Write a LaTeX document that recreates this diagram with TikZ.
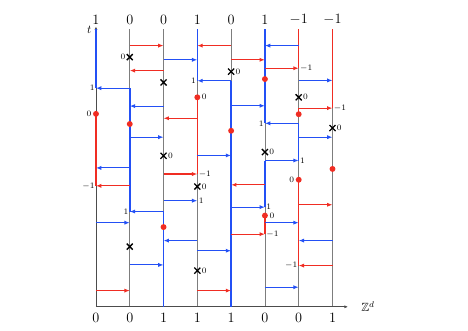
\documentclass[tikz,border=0pt]{standalone}
\usepackage{amssymb}
\definecolor{PathBlue}{RGB}{35,80,245}
\definecolor{PathRed}{RGB}{240,45,35}
\definecolor{LineGray}{RGB}{125,125,125}
\usetikzlibrary{
    arrows.meta,
    positioning,
    shapes.misc,
}

\begin{document}
\begin{tikzpicture}[
    site/.style={draw=LineGray, line width=0.7pt},
    lin/.style={draw=#1, line width=1.3pt},
    jump/.style={draw=#1, line width=0.9pt, -{Latex[length=4.5pt,width=3.5pt]}},
    kill/.style={draw, cross out, line width=1.1pt, minimum size=4pt, inner sep=0pt},
    rdot/.style={circle, fill=PathRed, inner sep=0pt, minimum size=5pt},
    val/.style={font=\scriptsize, inner sep=1pt},
    spin/.style={font=\large}
]
    \useasboundingbox (-2.84,-0.71) rectangle (11.01,9.08);
    % sites and axes
    \foreach \i in {1,...,7}
        \draw[site] (\i,0) -- (\i,8.22);
    \draw[site, -{Latex[length=3pt,width=2.5pt]}, draw=black!70] (0,0) -- (0,8.3);
    \draw[site, -{Latex[length=3pt,width=2.5pt]}, draw=black!70] (0,0) -- (7.46,0);
    \node (tlab) at (-0.2,8.2) {$t$};
    \node (zlab) at (8.05,0) {$\mathbb{Z}^d$};
    % coloured pieces of the lines
    \foreach \i/\a/\b in {0/6.47/8.22, 1/2.82/6.47, 2/0/2.82, 3/6.69/8.22, 4/0/6.69,
                          5/5.43/8.22, 5/2.95/4.33, 6/4.33/5.43}
        \draw[lin=PathBlue] (\i,\a) -- (\i,\b);
    \foreach \i/\a/\b in {0/3.58/5.71, 3/3.93/6.20, 5/2.15/2.70, 6/7.06/8.22,
                          6/5.70/5.88, 6/1.22/3.76, 7/5.88/8.22}
        \draw[lin=PathRed] (\i,\a) -- (\i,\b);
    % arrows
    \foreach \t/\a/\b/\c [count=\n] in {
        7.73/1/2/PathRed, 7.73/4/3/PathRed, 7.73/6/5/PathBlue, 7.31/2/3/PathBlue,
        7.31/4/5/PathRed, 7.06/5/6/PathRed, 6.99/2/1/PathRed, 6.70/6/7/PathBlue,
        6.69/4/3/PathBlue, 6.47/1/0/PathBlue, 5.94/2/1/PathBlue, 5.95/4/5/PathBlue,
        5.88/6/7/PathRed, 5.58/3/2/PathRed, 5.43/6/5/PathBlue, 5.02/1/2/PathBlue,
        5.02/6/7/PathBlue, 4.48/3/4/PathBlue, 4.33/5/6/PathBlue, 4.11/1/0/PathBlue,
        3.93/2/3/PathRed, 3.61/5/4/PathRed, 3.58/1/0/PathRed, 3.14/2/3/PathBlue,
        3.02/6/7/PathRed, 2.95/4/5/PathBlue, 2.82/2/1/PathBlue, 2.49/0/1/PathBlue,
        2.49/5/6/PathBlue, 2.15/4/5/PathRed, 1.96/3/2/PathBlue, 1.96/7/6/PathBlue,
        1.66/3/4/PathBlue, 1.24/1/2/PathBlue, 1.22/7/6/PathRed, 0.58/5/6/PathBlue,
        0.48/0/1/PathRed, 0.48/3/4/PathRed} {
        \coordinate (s\n) at (\a,\t);
        \coordinate (e\n) at (\b,\t);
        \draw[jump=\c] (s\n) -- (e\n);
    }
    % values carried by the arrows
    \foreach \i/\t/\s/\v [count=\n] in {
        6/7.06/right/-1, 3/6.69/left/1, 0/6.47/left/1, 7/5.88/right/-1,
        5/5.43/left/1, 6/4.33/right/1, 3/3.93/right/-1, 0/3.58/left/-1,
        3/3.14/right/1, 5/2.95/right/1, 1/2.82/left/1, 5/2.15/right/-1,
        6/1.22/left/-1}
        \node[val, \s] (a\n) at (\i,\t) {$\v$};
    % crosses
    \foreach \i/\t/\s [count=\n] in {1/7.39/left, 4/6.96/right, 2/4.47/right, 6/6.20/right,
                                     7/5.29/right, 5/4.58/right, 3/3.56/right, 3/1.07/right} {
        \node[kill] (x\n) at (\i,\t) {};
        \node[val, \s=0pt of x\n] (xl\n) {$0$};
    }
    \node[kill] (x9) at (2,6.64) {};
    \node[kill] (x10) at (1,1.78) {};
    % red dots
    \foreach \i/\t/\s [count=\n] in {0/5.71/left, 3/6.20/right, 6/3.76/left, 5/2.70/right} {
        \node[rdot] (d\n) at (\i,\t) {};
        \node[val, \s=0pt of d\n] (dl\n) {$0$};
    }
    \foreach \i/\t [count=\n from 5] in {1/5.41, 4/5.21, 5/6.74, 6/5.70, 7/4.08, 2/2.36}
        \node[rdot] (d\n) at (\i,\t) {};
    % values at the top and at the bottom
    \foreach \v [count=\n from 0] in {1,0,0,1,0,1,-1,-1}
        \node[spin] (top\n) at (\n,8.49) {$\v$};
    \foreach \v [count=\n from 0] in {0,0,1,1,1,0,0,1}
        \node[spin] (bot\n) at (\n,-0.33) {$\v$};
\end{tikzpicture}
\end{document}
